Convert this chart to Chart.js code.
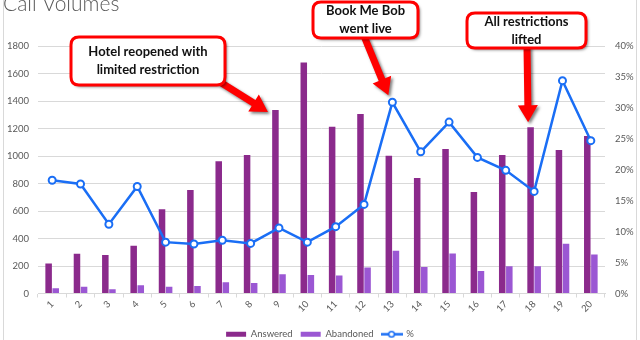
<!DOCTYPE html>
<html>
<head>
<meta charset="utf-8">
<script src="https://cdn.jsdelivr.net/npm/chart.js@4.4.1/dist/chart.umd.min.js"></script>
<style>
  html, body { margin: 0; padding: 0; background: #fff; overflow: hidden; }
  #wrap { width: 640px; height: 340px; }
</style>
</head>
<body>
<div id="wrap"><canvas id="callChart" width="640" height="340"></canvas></div>
<script>
const days = ['1', '2', '3', '4', '5', '6', '7', '8', '9', '10', '11', '12', '13', '14', '15', '16', '17', '18', '19', '20'];
const answered = [218, 290, 280, 348, 613, 752, 962, 1008, 1335, 1680, 1213, 1306, 1002, 840, 1051, 738, 1007, 1209, 1044, 1146];
const abandoned = [38, 50, 31, 60, 50, 55, 82, 77, 140, 135, 131, 189, 311, 192, 291, 163, 199, 199, 362, 284];
const abandonRate = [18.3, 17.7, 11.2, 17.3, 8.3, 8.0, 8.6, 8.1, 10.6, 8.3, 10.8, 14.4, 30.9, 22.9, 27.7, 22.0, 19.9, 16.5, 34.4, 24.7];

const countTicks = { min: 0, max: 1800, step: 200 };
const rateTicks = { min: 0, max: 40, step: 5 };

const callouts = [
    { lines: ['Hotel reopened with', 'limited restriction'], box: [71, 37, 154, 48], from: [220, 82], day: 9, target: 'bar', dx: -11, dy: 2 },
    { lines: ['Book Me Bob', 'went live'], box: [313, 2, 105, 36], from: [364, 36], day: 13, target: 'point', dx: -4, dy: -7 },
    { lines: ['All restrictions', 'lifted'], box: [467, 13, 119, 35], from: [527, 46], day: 18, target: 'bar', dx: -6, dy: -5 }
];

const answeredColor = '#8B2A8C';
const abandonedColor = '#9B57D3';
const lineColor = '#1A6EF5';
const textColor = '#595959';
const gridColor = '#D9D9D9';
const calloutRed = '#FF0000';

function makeLineSwatch() {
    const c = document.createElement('canvas');
    c.width = 22;
    c.height = 9;
    const g = c.getContext('2d');
    g.strokeStyle = lineColor;
    g.lineWidth = 2.5;
    g.beginPath();
    g.moveTo(0, 4.5);
    g.lineTo(22, 4.5);
    g.stroke();
    g.beginPath();
    g.arc(11, 4.5, 2.8, 0, Math.PI * 2);
    g.fillStyle = '#fff';
    g.fill();
    g.lineWidth = 1.6;
    g.stroke();
    return c;
}

function roundRect(ctx, x, y, w, h, r) {
    ctx.beginPath();
    ctx.moveTo(x + r, y);
    ctx.lineTo(x + w - r, y);
    ctx.quadraticCurveTo(x + w, y, x + w, y + r);
    ctx.lineTo(x + w, y + h - r);
    ctx.quadraticCurveTo(x + w, y + h, x + w - r, y + h);
    ctx.lineTo(x + r, y + h);
    ctx.quadraticCurveTo(x, y + h, x, y + h - r);
    ctx.lineTo(x, y + r);
    ctx.quadraticCurveTo(x, y, x + r, y);
    ctx.closePath();
}

function drawArrow(ctx, x0, y0, x1, y1) {
    const ang = Math.atan2(y1 - y0, x1 - x0);
    const len = Math.hypot(x1 - x0, y1 - y0);
    const headLen = 17, headHalf = 10, shaftHalf = 3.5;
    ctx.save();
    ctx.translate(x0, y0);
    ctx.rotate(ang);
    ctx.beginPath();
    ctx.moveTo(0, -shaftHalf);
    ctx.lineTo(len - headLen, -shaftHalf);
    ctx.lineTo(len - headLen, -headHalf);
    ctx.lineTo(len, 0);
    ctx.lineTo(len - headLen, headHalf);
    ctx.lineTo(len - headLen, shaftHalf);
    ctx.lineTo(0, shaftHalf);
    ctx.closePath();
    ctx.fillStyle = calloutRed;
    ctx.fill();
    ctx.restore();
}

// frame, title and the callout notes
const decorations = {
    id: 'decorations',
    beforeDraw(chart) {
        const ctx = chart.ctx;
        ctx.save();
        ctx.strokeStyle = gridColor;
        ctx.lineWidth = 1;
        ctx.beginPath();
        ctx.moveTo(3.5, 0);
        ctx.lineTo(3.5, 340);
        ctx.moveTo(636.5, 0);
        ctx.lineTo(636.5, 340);
        ctx.stroke();
        ctx.fillStyle = textColor;
        ctx.font = '300 21px Lato';
        ctx.textBaseline = 'alphabetic';
        ctx.fillText('Call Volumes', 3, 11);
        ctx.restore();
    },
    afterDraw(chart) {
        const ctx = chart.ctx;
        const x = chart.scales.x;
        const yCount = chart.scales.y;
        const yRate = chart.scales.y1;
        ctx.save();
        ctx.shadowColor = 'rgba(0, 0, 0, 0.5)';
        ctx.shadowBlur = 3;
        ctx.shadowOffsetX = 2;
        ctx.shadowOffsetY = 2;
        callouts.forEach(c => {
            const i = c.day - 1;
            const tx = x.getPixelForValue(i) + c.dx;
            const ty = (c.target === 'bar' ? yCount.getPixelForValue(answered[i]) : yRate.getPixelForValue(abandonRate[i])) + c.dy;
            drawArrow(ctx, c.from[0], c.from[1], tx, ty);
        });
        callouts.forEach(c => {
            const [bx, by, bw, bh] = c.box;
            roundRect(ctx, bx, by, bw, bh, 8);
            ctx.fillStyle = '#fff';
            ctx.fill();
        });
        ctx.shadowColor = 'transparent';
        callouts.forEach(c => {
            const [bx, by, bw, bh] = c.box;
            roundRect(ctx, bx, by, bw, bh, 8);
            ctx.strokeStyle = calloutRed;
            ctx.lineWidth = 3;
            ctx.stroke();
            ctx.fillStyle = '#111';
            ctx.font = 'bold 13px Lato';
            ctx.textAlign = 'center';
            ctx.textBaseline = 'middle';
            const lh = 18;
            const cy = by + bh / 2 - lh * (c.lines.length - 1) / 2;
            c.lines.forEach((t, k) => ctx.fillText(t, bx + bw / 2, cy + k * lh));
        });
        ctx.restore();
    }
};

const lineSwatch = makeLineSwatch();
const ctx = document.getElementById('callChart').getContext('2d');

const callChart = new Chart(ctx, {
    type: 'bar',
    data: {
        labels: days,
        datasets: [{
            label: 'Answered',
            data: answered,
            backgroundColor: answeredColor,
            yAxisID: 'y',
            order: 1,
            categoryPercentage: 0.5,
            barPercentage: 0.92
        }, {
            label: 'Abandoned',
            data: abandoned,
            backgroundColor: abandonedColor,
            yAxisID: 'y',
            order: 1,
            categoryPercentage: 0.5,
            barPercentage: 0.92
        }, {
            type: 'line',
            label: '%',
            data: abandonRate,
            yAxisID: 'y1',
            order: 0,
            borderColor: lineColor,
            borderWidth: 2.5,
            pointRadius: 3.5,
            pointBorderWidth: 2,
            pointBackgroundColor: '#fff',
            pointBorderColor: lineColor,
            tension: 0
        }]
    },
    options: {
        responsive: false,
        animation: false,
        layout: { padding: { top: 46, left: 0, right: 0, bottom: -9 } },
        plugins: {
            tooltip: { enabled: false },
            legend: {
                position: 'bottom',
                labels: {
                    usePointStyle: true,
                    pointStyleWidth: 20,
                    boxHeight: 5,
                    padding: 8,
                    color: textColor,
                    font: { family: 'Lato', size: 9.5 },
                    generateLabels(chart) {
                        return chart.data.datasets.map((ds, i) => ({
                            text: ds.label,
                            datasetIndex: i,
                            fillStyle: ds.type === 'line' ? '#fff' : ds.backgroundColor,
                            strokeStyle: ds.type === 'line' ? lineColor : ds.backgroundColor,
                            lineWidth: 0,
                            pointStyle: ds.type === 'line' ? lineSwatch : 'rect',
                            fontColor: textColor,
                            hidden: false
                        }));
                    }
                }
            }
        },
        scales: {
            x: {
                grid: { display: true, drawOnChartArea: false, color: gridColor, tickLength: 4 },
                border: { display: true, color: gridColor },
                ticks: {
                    color: textColor,
                    font: { family: 'Lato', size: 9.5 },
                    minRotation: 45,
                    maxRotation: 45,
                    padding: 1,
                    autoSkip: false
                },
                afterFit(scale) { scale.height = 28; }
            },
            y: {
                position: 'left',
                min: countTicks.min,
                max: countTicks.max,
                ticks: {
                    stepSize: countTicks.step,
                    color: textColor,
                    font: { family: 'Lato', size: 9.5 },
                    padding: 9,
                    callback: v => String(v)
                },
                grid: { color: gridColor, drawTicks: false },
                border: { display: false },
                afterFit(scale) { scale.width = 38; }
            },
            y1: {
                position: 'right',
                min: rateTicks.min,
                max: rateTicks.max,
                ticks: {
                    stepSize: rateTicks.step,
                    color: textColor,
                    font: { family: 'Lato', size: 9.5 },
                    padding: 10,
                    callback: v => v + '%'
                },
                grid: { drawOnChartArea: false, drawTicks: false },
                border: { display: false },
                afterFit(scale) { scale.width = 35; }
            }
        }
    },
    plugins: [decorations]
});
</script>
</body>
</html>
